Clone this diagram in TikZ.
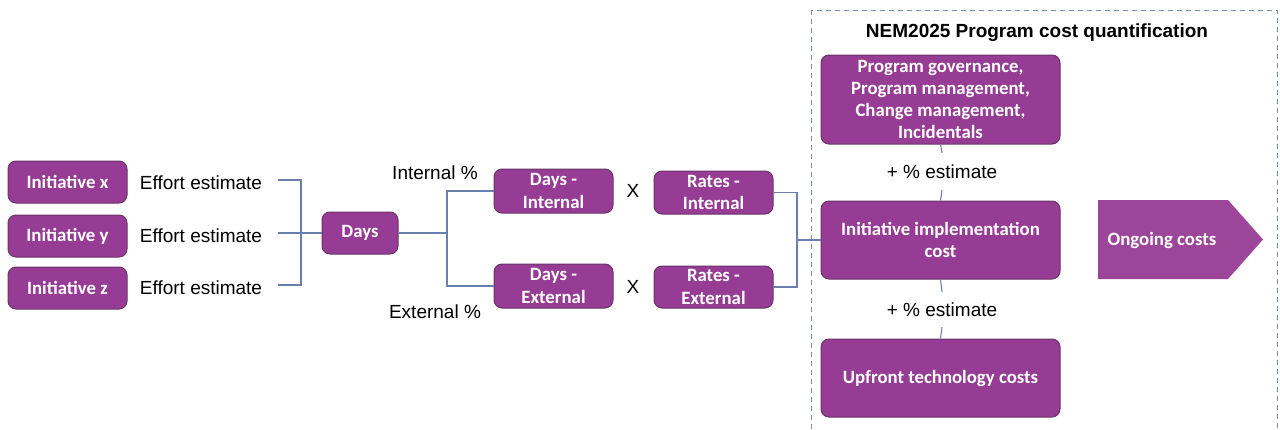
\documentclass[tikz,border=0pt]{standalone}
\usepackage{fontspec}
\setmainfont{Liberation Sans}
\newfontfamily\boxfont{Carlito}
\begin{document}
\begin{tikzpicture}[x=1pt,y=-1pt,
  pbox/.style={draw=boxedge, line width=1pt, fill=boxfill, rounded corners=8pt,
    text=white, font=\boxfont\bfseries\fontsize{18.8}{22.3}\selectfont,
    align=center, inner sep=0pt},
  lbl/.style={font=\fontsize{19}{22}\selectfont, inner sep=0pt},
  conn/.style={draw=connc, line width=1.1pt},
]
\definecolor{boxfill}{RGB}{150,60,148}
\definecolor{boxedge}{RGB}{104,52,106}
\definecolor{arrowfill}{RGB}{156,70,154}
\definecolor{connc}{RGB}{105,128,175}
\definecolor{framec}{RGB}{120,140,170}
\useasboundingbox (0,0) rectangle (1280,429);

% cost quantification frame
\draw[framec, line width=0.9pt, dash pattern=on 5pt off 4pt] (811,10) rectangle (1277,445);
\node[font=\bfseries\fontsize{19}{22}\selectfont, inner sep=0pt] (title) at (1037,33) {NEM2025 Program cost quantification};

% initiatives and effort estimates
\node[pbox, minimum width=119, minimum height=42] (ix) at (67.5,182) {Initiative x};
\node[pbox, minimum width=119, minimum height=42] (iy) at (67.5,236) {Initiative y};
\node[pbox, minimum width=119, minimum height=42] (iz) at (67.5,288) {Initiative z};
\node[lbl] (ex) at (201,183) {Effort estimate};
\node[lbl] (ey) at (201,236) {Effort estimate};
\node[lbl] (ez) at (201,288) {Effort estimate};

\node[pbox, minimum width=76, minimum height=42] (days) at (360,233) {Days};

% internal / external split
\node[lbl] (intpct) at (435,173) {Internal \%};
\node[lbl] (extpct) at (435,312) {External \%};
\node[pbox, minimum width=119, minimum height=44] (di) at (553.5,191) {Days -\\Internal};
\node[pbox, minimum width=119, minimum height=44] (de) at (553.5,286) {Days -\\External};
\node[lbl] (xi) at (633,191) {X};
\node[lbl] (xe) at (633,287) {X};
\node[pbox, minimum width=119, minimum height=43] (ri) at (713.5,192.5) {Rates -\\Internal};
\node[pbox, minimum width=119, minimum height=42] (re) at (713.5,287) {Rates -\\External};

% program cost column
\node[pbox, minimum width=239, minimum height=89] (pg) at (940.5,99.5)
  {Program governance,\\Program management,\\Change management,\\Incidentals};
\node[lbl, minimum height=37] (est1) at (942,171.5) {+ \% estimate};
\node[pbox, minimum width=239, minimum height=78] (impl) at (940.5,240)
  {Initiative implementation\\cost};
\node[lbl, minimum height=35] (est2) at (942,309.5) {+ \% estimate};
\node[pbox, minimum width=239, minimum height=78] (up) at (940.5,378) {Upfront technology costs};

% ongoing costs pointer
\fill[arrowfill] (1098,200) -- (1228,200) -- (1263,239.5) -- (1228,279) -- (1098,279) -- cycle;
\node[text=white, font=\boxfont\bfseries\fontsize{18.8}{22}\selectfont, inner sep=0pt] (ongoing) at (1162,240) {Ongoing costs};

% connectors
\coordinate (b1) at (278,180);
\coordinate (b2) at (278,233);
\coordinate (b3) at (278,285);
\coordinate (bj) at (301,233);
\draw[conn] (b1) -| (bj) |- (b3);
\draw[conn] (b2) -- (days.west);

\coordinate (sj) at (447,233);
\draw[conn] (days.east) -- (sj);
\draw[conn] (di.west) -| (sj) |- (de.west);

\coordinate (rj) at (797,240);
\draw[conn] (ri.east) -| (rj) |- (re.east);
\draw[conn] (rj) -- (impl.west);

\draw[conn] (pg.south) -- (est1.north);
\draw[conn] (est1.south) -- (impl.north);
\draw[conn] (impl.south) -- (est2.north);
\draw[conn] (est2.south) -- (up.north);
\end{tikzpicture}
\end{document}
